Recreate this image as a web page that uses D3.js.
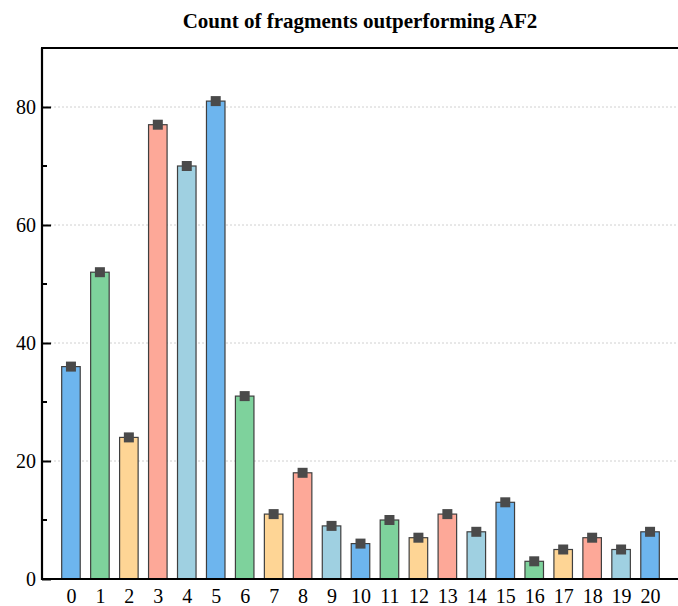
<!DOCTYPE html>
<html>
<head>
<meta charset="utf-8">
<script src="https://cdn.jsdelivr.net/npm/d3@7"></script>
<style>
  body { margin: 0; background: #fff; }
  svg { display: block; font-family: "Liberation Serif", "Times New Roman", serif; }
</style>
</head>
<body>
<div id="chart"></div>
<script>
// data
const categories = [0, 1, 2, 3, 4, 5, 6, 7, 8, 9, 10, 11, 12, 13, 14, 15, 16, 17, 18, 19, 20];
const counts = [36, 52, 24, 77, 70, 81, 31, 11, 18, 9, 6, 10, 7, 11, 8, 13, 3, 5, 7, 5, 8];
const palette = ["#6db5ee", "#7ed29c", "#fed595", "#fda898", "#9fd0e1"];
const yTicks = [0, 20, 40, 60, 80];
const yMinorTicks = [10, 30, 50, 70];
const title = "Count of fragments outperforming AF2";

const W = 678, H = 606;
const margin = { top: 48, right: 0, bottom: 27, left: 42 };
const serif = "'Liberation Serif', 'Times New Roman', serif";

const svg = d3.select("#chart")
  .append("svg")
  .attr("width", W)
  .attr("height", H);

const x = d3.scaleLinear()
  .domain([-1, 21])
  .range([margin.left, W - margin.right + 1]);

const y = d3.scaleLinear()
  .domain([0, 90])
  .range([H - margin.bottom, margin.top]);

const step = x(1) - x(0);
const barW = step * 0.64;

// dotted grid at major ticks
svg.selectAll("line.grid")
  .data(yTicks.filter(d => d > 0))
  .enter().append("line")
  .attr("class", "grid")
  .attr("x1", margin.left)
  .attr("x2", W)
  .attr("y1", d => y(d))
  .attr("y2", d => y(d))
  .style("stroke", "#c4c4c4")
  .style("stroke-width", 0.8)
  .style("stroke-dasharray", "2 2");

// bars
svg.selectAll(".bar")
  .data(counts)
  .enter().append("rect")
  .attr("class", "bar")
  .attr("x", (d, i) => x(categories[i]) - barW / 2)
  .attr("y", d => y(d))
  .attr("width", barW)
  .attr("height", d => y(0) - y(d))
  .attr("fill", (d, i) => palette[i % palette.length])
  .attr("stroke", "#3f3f3f")
  .attr("stroke-width", 1.2);

// square markers on top of bars
const mk = 10;
svg.selectAll(".marker")
  .data(counts)
  .enter().append("rect")
  .attr("class", "marker")
  .attr("x", (d, i) => x(categories[i]) - mk / 2)
  .attr("y", d => y(d) - mk / 2)
  .attr("width", mk)
  .attr("height", mk)
  .attr("fill", "#4a4a4a");

// left axis ticks (inward)
const yAxis = d3.axisRight(y)
  .tickValues(yTicks)
  .tickSize(9)
  .tickFormat("");

svg.append("g")
  .attr("transform", "translate(" + margin.left + ",0)")
  .call(yAxis)
  .call(g => g.select(".domain").remove())
  .selectAll("line")
  .style("stroke", "#000")
  .style("stroke-width", 2);

svg.append("g")
  .selectAll("line")
  .data(yMinorTicks)
  .enter().append("line")
  .attr("x1", margin.left)
  .attr("x2", margin.left + 5)
  .attr("y1", d => y(d))
  .attr("y2", d => y(d))
  .style("stroke", "#000")
  .style("stroke-width", 2);

svg.append("g")
  .selectAll("text")
  .data(yTicks)
  .enter().append("text")
  .attr("x", margin.left - 6)
  .attr("y", d => y(d))
  .attr("dy", "0.34em")
  .style("text-anchor", "end")
  .style("font-family", serif)
  .style("font-size", "20px")
  .style("fill", "#000")
  .text(d => d);

// frame lines: left, top, bottom
svg.append("line")
  .attr("x1", margin.left).attr("x2", margin.left)
  .attr("y1", margin.top).attr("y2", y(0) + 1)
  .style("stroke", "#000").style("stroke-width", 2.2);

svg.append("line")
  .attr("x1", margin.left - 1).attr("x2", W)
  .attr("y1", margin.top).attr("y2", margin.top)
  .style("stroke", "#000").style("stroke-width", 2);

svg.append("line")
  .attr("x1", margin.left - 1).attr("x2", W)
  .attr("y1", y(0)).attr("y2", y(0))
  .style("stroke", "#000").style("stroke-width", 2.2);

// x labels
const xAxis = d3.axisBottom(x)
  .tickValues(categories)
  .tickSize(0)
  .tickPadding(10);

svg.append("g")
  .attr("transform", "translate(0," + y(0) + ")")
  .call(xAxis)
  .call(g => g.select(".domain").remove())
  .selectAll("text")
  .style("font-family", serif)
  .style("font-size", "20px")
  .style("fill", "#000");

svg.append("text")
  .attr("x", 360)
  .attr("y", 28)
  .style("text-anchor", "middle")
  .style("font-family", serif)
  .style("font-size", "21px")
  .style("font-weight", "bold")
  .text(title);
</script>
</body>
</html>
